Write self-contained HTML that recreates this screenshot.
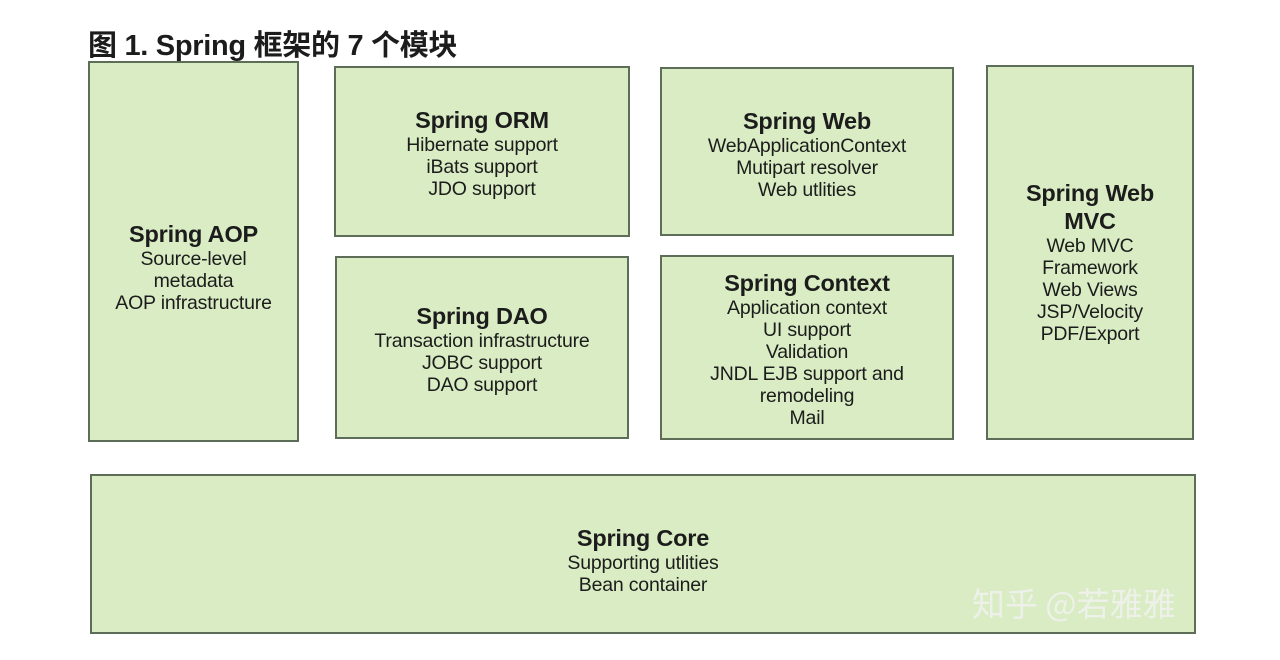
<!DOCTYPE html>
<html><head><meta charset="utf-8"><style>
body{margin:0;width:1280px;height:660px;background:#fff;position:relative;overflow:hidden;font-family:"Liberation Sans","Noto Sans CJK SC",sans-serif;color:#1c1c1c}
.t{position:absolute;left:88px;top:22px;font-size:29px;font-weight:bold;white-space:nowrap;letter-spacing:-0.3px}
.b{position:absolute;box-sizing:border-box;background:#d9ecc3;border:2px solid #5d6e58;display:flex;flex-direction:column;align-items:center;justify-content:center;text-align:center;font-size:19.5px;line-height:22px;letter-spacing:-0.2px}
.b h{display:block;font-weight:bold;font-size:23.5px;line-height:28px}
.w{position:absolute;left:972px;top:578px;font-size:33px;color:#eef1ea;font-family:"Noto Sans CJK SC",sans-serif;white-space:nowrap}
</style></head><body>
<div class="t">图 1. Spring 框架的 7 个模块</div>
<div class="b" style="left:88px;top:61px;width:211px;height:381px;justify-content:flex-start;padding-top:157px"><h>Spring AOP</h>Source-level<br>metadata<br>AOP infrastructure</div>
<div class="b" style="left:334px;top:66px;width:296px;height:171px;justify-content:flex-start;padding-top:38px"><h>Spring ORM</h>Hibernate support<br>iBats support<br>JDO support</div>
<div class="b" style="left:335px;top:256px;width:294px;height:183px;justify-content:flex-start;padding-top:44px"><h>Spring DAO</h>Transaction infrastructure<br>JOBC support<br>DAO support</div>
<div class="b" style="left:660px;top:67px;width:294px;height:169px;justify-content:flex-start;padding-top:38px"><h>Spring Web</h>WebApplicationContext<br>Mutipart resolver<br>Web utlities</div>
<div class="b" style="left:660px;top:255px;width:294px;height:185px;justify-content:flex-start;padding-top:12px"><h>Spring Context</h>Application context<br>UI support<br>Validation<br>JNDL EJB support and<br>remodeling<br>Mail</div>
<div class="b" style="left:986px;top:65px;width:208px;height:375px;justify-content:flex-start;padding-top:112px"><h>Spring Web<br>MVC</h>Web MVC<br>Framework<br>Web Views<br>JSP/Velocity<br>PDF/Export</div>
<div class="b" style="left:90px;top:474px;width:1106px;height:160px;justify-content:flex-start;padding-top:48px"><h>Spring Core</h>Supporting utlities<br>Bean container</div>
<div class="w">知乎 @若雅雅</div>
</body></html>
